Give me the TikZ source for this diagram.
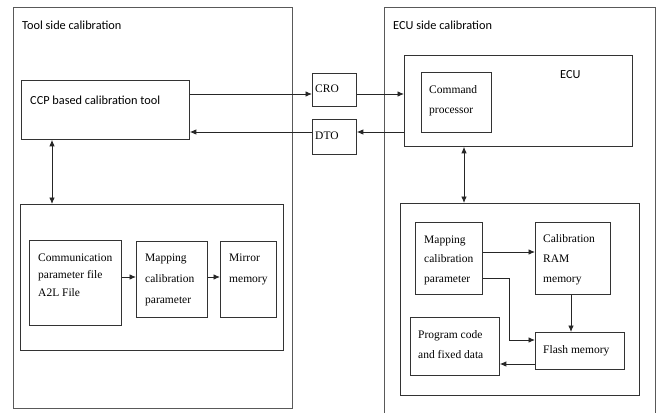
\documentclass[tikz,border=0pt]{standalone}
\usepackage{fontspec}
\setmainfont{Liberation Serif}
\newfontfamily\carlitofont{Carlito}
\usetikzlibrary{arrows.meta,calc}
\begin{document}
\begin{tikzpicture}[x=1pt,y=-1pt,
  box/.style={draw=black!80, line width=0.8pt, inner sep=0, anchor=north west, fill=none},
  outer/.style={draw=black!65, line width=0.8pt, inner sep=0, anchor=north west},
  lbl/.style={inner sep=0, anchor=north west, align=left},
  slbl/.style={inner sep=0, anchor=base west, font=\carlitofont\fontsize{12.3}{14}\selectfont},
  tlbl/.style={inner sep=0, anchor=base west, font=\fontsize{11.5}{13}\selectfont},
  arr/.style={line width=0.9pt, draw=black!85, -{Latex[length=6.5pt,width=5.5pt]}},
  darr/.style={line width=0.9pt, draw=black!85, {Latex[length=6.5pt,width=5.5pt]}-{Latex[length=6.5pt,width=5.5pt]}}
]
\useasboundingbox (0,0) rectangle (660,412);
\fill[white] (0,0) rectangle (660,412);

% outer regions
\node[outer, minimum width=279pt, minimum height=401pt] (toolside) at (13,7) {};
\node[outer, minimum width=271pt, minimum height=420pt] (ecuside) at (384,7) {};
\node[slbl] (tooltitle) at (22,30) {Tool side calibration};
\node[slbl] (ecutitle) at (393,30) {ECU side calibration};

% tool side
\node[box, minimum width=168pt, minimum height=59pt] (ccp) at (21,80) {};
\node[slbl] (ccplbl) at (30,104) {CCP based calibration tool};
\node[box, minimum width=263pt, minimum height=146pt] (toolin) at (20,204) {};
\node[box, minimum width=92pt, minimum height=85pt] (comm) at (29,240) {};
\node[lbl, font=\fontsize{11.5}{17.5}\selectfont] (commlbl) at (38,253.4) {Communication\\parameter file\\A2L File};
\node[box, minimum width=71pt, minimum height=76pt] (mapt) at (136,241) {};
\node[lbl, font=\fontsize{11.5}{21}\selectfont] (maptlbl) at (145,253.4) {Mapping\\calibration\\parameter};
\node[box, minimum width=56pt, minimum height=76pt] (mirror) at (220,241) {};
\node[lbl, font=\fontsize{11.5}{21}\selectfont] (mirrorlbl) at (229,253.4) {Mirror\\memory};

% middle
\node[box, minimum width=44pt, minimum height=33pt] (cro) at (312,73) {};
\node[tlbl] (crolbl) at (315,92) {CRO};
\node[box, minimum width=44pt, minimum height=35pt] (dto) at (312,119) {};
\node[tlbl] (dtolbl) at (315,139) {DTO};

% ECU side
\node[box, minimum width=228pt, minimum height=91pt] (ecu) at (404,55) {};
\node[slbl] (ecului) at (560,78) {ECU};
\node[box, minimum width=70pt, minimum height=60pt] (cmd) at (421,72) {};
\node[lbl, font=\fontsize{11.5}{20}\selectfont] (cmdlbl) at (429,85.4) {Command\\processor};
\node[box, minimum width=239pt, minimum height=192pt] (ecuin) at (400,203) {};
\node[box, minimum width=67pt, minimum height=72pt] (mape) at (415,222) {};
\node[lbl, font=\fontsize{11.5}{19.5}\selectfont] (mapelbl) at (424,235.4) {Mapping\\calibration\\parameter};
\node[box, minimum width=75pt, minimum height=72pt] (calram) at (535,222) {};
\node[lbl, font=\fontsize{11.5}{20}\selectfont] (calramlbl) at (543,234.4) {Calibration\\RAM\\memory};
\node[box, minimum width=89pt, minimum height=58pt] (prog) at (410,317) {};
\node[lbl, font=\fontsize{11.5}{20}\selectfont] (proglbl) at (418,330.4) {Program code\\and fixed data};
\node[box, minimum width=89pt, minimum height=37pt] (flash) at (535,332) {};
\node[tlbl] (flashlbl) at (543,353) {Flash memory};

% helper levels
\coordinate (yCRO) at (0,94);
\coordinate (yDTO) at (0,132);
\coordinate (xTool) at (52,0);
\coordinate (xEcu) at (464,0);
\coordinate (yTool) at (0,277);
\coordinate (yMapRam) at (0,252);
\coordinate (yMapFl) at (0,278);
\coordinate (xBend) at (509,0);
\coordinate (yFlIn) at (0,340);
\coordinate (xRam) at (571,0);
\coordinate (yFlOut) at (0,364);

% connectors
\draw[arr] (ccp.east |- yCRO) -- (cro.west |- yCRO);
\draw[arr] (dto.west |- yDTO) -- (ccp.east |- yDTO);
\draw[arr] (cro.east |- yCRO) -- (ecu.west |- yCRO);
\draw[arr] (ecu.west |- yDTO) -- (dto.east |- yDTO);
\draw[darr] (ccp.south -| xTool) -- (toolin.north -| xTool);
\draw[darr] (ecu.south -| xEcu) -- (ecuin.north -| xEcu);
\draw[arr] (comm.east |- yTool) -- (mapt.west |- yTool);
\draw[arr] (mapt.east |- yTool) -- (mirror.west |- yTool);
\draw[arr] (mape.east |- yMapRam) -- (calram.west |- yMapRam);
\draw[arr] (mape.east |- yMapFl) -- (xBend |- yMapFl) -- (xBend |- yFlIn) -- (flash.west |- yFlIn);
\draw[arr] (calram.south -| xRam) -- (flash.north -| xRam);
\draw[arr] (flash.west |- yFlOut) -- (prog.east |- yFlOut);
\end{tikzpicture}
\end{document}
